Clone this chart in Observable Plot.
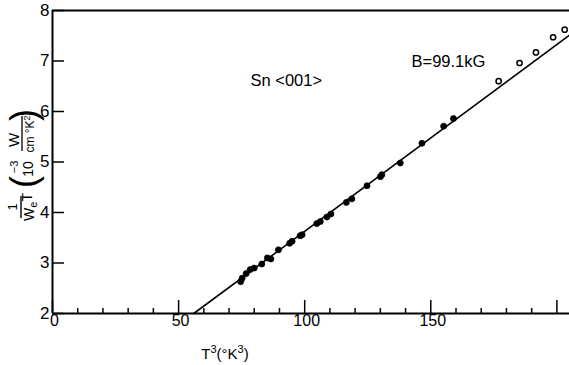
<!DOCTYPE html>
<html><head><meta charset="utf-8">
<script src="https://cdn.jsdelivr.net/npm/d3@7"></script>
<script src="https://cdn.jsdelivr.net/npm/@observablehq/plot@0.6"></script>
<style>body{margin:0;background:#fff;} svg{display:block}</style>
</head><body><div id="chart"></div>
<script>
// filled points (measured)
const filledX = [74.6, 75.2, 76.8, 78.4, 80.0, 83.0, 85.2, 86.6, 89.6, 94.0, 95.0, 98.2, 99.0, 104.8, 106.2, 108.8, 110.4, 116.5, 118.7, 124.7, 130.0, 130.6, 137.9, 146.5, 155.1, 159.0];
const filledY = [2.63, 2.70, 2.79, 2.87, 2.90, 2.98, 3.10, 3.08, 3.26, 3.39, 3.43, 3.54, 3.56, 3.78, 3.82, 3.91, 3.97, 4.20, 4.27, 4.53, 4.71, 4.75, 4.98, 5.37, 5.71, 5.86];
// open points
const openX = [176.9, 185.2, 191.7, 198.5, 203.1];
const openY = [6.60, 6.96, 7.17, 7.47, 7.62];
// fitted line endpoints
const lineX = [56, 205];
const lineY = [2, 7.51];
// ticks
const xMajor = [0, 50, 100, 150, 200];
const xLabels = [0, 50, 100, 150];
const xMinor = [10, 20, 30, 40, 60, 70, 80, 90, 110, 120, 130, 140, 160, 170, 180, 190];
const yTicks = [2, 3, 4, 5, 6, 7, 8];
const notes = [{x: 92.7, y: 6.6, t: "Sn <001>"}, {x: 157, y: 6.98, t: "B=99.1kG"}];

const font = "'Liberation Sans', Arial, sans-serif";
const filled = filledX.map((x, i) => ({x, y: filledY[i]}));
const open = openX.map((x, i) => ({x, y: openY[i]}));
const line = lineX.map((x, i) => ({x, y: lineY[i]}));

const chart = Plot.plot({
  width: 569, height: 365,
  marginLeft: 52, marginRight: 0, marginTop: 10, marginBottom: 52,
  x: {domain: [0, 205], label: null},
  y: {domain: [2, 8], label: null},
  style: {fontFamily: font, fontSize: "15px", background: "#fff", color: "#000"},
  marks: [
    Plot.ruleY([2], {stroke: "#000", strokeWidth: 2}),
    Plot.ruleY([8], {stroke: "#000", strokeWidth: 2}),
    Plot.ruleX([0], {stroke: "#000", strokeWidth: 2}),
    Plot.axisX({ticks: xMinor, tickSize: -5, strokeWidth: 1.5, text: null, label: null}),
    Plot.axisX({ticks: xMajor, tickSize: -13, strokeWidth: 1.5, text: null, label: null}),
    Plot.axisX({ticks: xLabels, tickSize: 0, tickPadding: 1, dx: 2, fontSize: 16, tickFormat: "d", label: null}),
    Plot.axisY({ticks: yTicks, tickSize: -12, strokeWidth: 1.5, text: null, label: null}),
    Plot.axisY({ticks: yTicks, tickSize: 0, tickPadding: 3, fontSize: 17, tickFormat: "d", label: null}),
    Plot.line(line, {x: "x", y: "y", stroke: "#000", strokeWidth: 1.6}),
    Plot.dot(filled, {x: "x", y: "y", r: 3, fill: "#000", stroke: "#000", strokeWidth: 0.8}),
    Plot.dot(open, {x: "x", y: "y", r: 2.6, fill: "#fff", stroke: "#000", strokeWidth: 1.5}),
    Plot.text(notes, {x: "x", y: "y", text: "t", fontSize: 16.5})
  ]
});
document.getElementById("chart").appendChild(chart);

const svg = d3.select(chart);
const xl = svg.append("text").attr("x", 225).attr("y", 359).attr("text-anchor", "middle")
  .attr("font-family", font).attr("font-size", 15).attr("fill", "#000");
xl.append("tspan").text("T");
xl.append("tspan").attr("font-size", 11).attr("dy", -6).text("3");
xl.append("tspan").attr("dy", 6).text("(°K");
xl.append("tspan").attr("font-size", 11).attr("dy", -6).text("3");
xl.append("tspan").attr("dy", 6).text(")");

const g = svg.append("g").attr("transform", "translate(26,160) rotate(-90)")
  .attr("font-family", font).attr("fill", "#000");
// 1 / (W_e T)
g.append("text").attr("x", -47).attr("y", -9).attr("text-anchor", "middle").attr("font-size", 13).text("1");
g.append("line").attr("x1", -58).attr("x2", -36).attr("y1", -5).attr("y2", -5).attr("stroke", "#000").attr("stroke-width", 1.4);
const d = g.append("text").attr("x", -47).attr("y", 8).attr("text-anchor", "middle").attr("font-size", 14);
d.append("tspan").text("W");
d.append("tspan").attr("font-size", 11).attr("dy", 3).text("e");
d.append("tspan").attr("dy", -5).text("T");
// ( 10^-3  W / cm°K² )
g.append("text").attr("x", -22).attr("y", 10).attr("text-anchor", "middle").attr("font-size", 36).text("(");
g.append("text").attr("x", 45).attr("y", 10).attr("text-anchor", "middle").attr("font-size", 36).text(")");
g.append("text").attr("x", -9).attr("y", 7).attr("text-anchor", "middle").attr("font-size", 14).text("10");
g.append("text").attr("x", -7).attr("y", -8).attr("text-anchor", "middle").attr("font-size", 11).text("−3");
g.append("text").attr("x", 20).attr("y", -7).attr("text-anchor", "middle").attr("font-size", 15).text("W");
g.append("line").attr("x1", 9).attr("x2", 44).attr("y1", -4).attr("y2", -4).attr("stroke", "#000").attr("stroke-width", 1.3);
const cm = g.append("text").attr("x", 26).attr("y", 8).attr("text-anchor", "middle").attr("font-size", 12);
cm.append("tspan").text("cm °K");
cm.append("tspan").attr("font-size", 9).attr("dy", -4).text("2");
</script>
</body></html>
